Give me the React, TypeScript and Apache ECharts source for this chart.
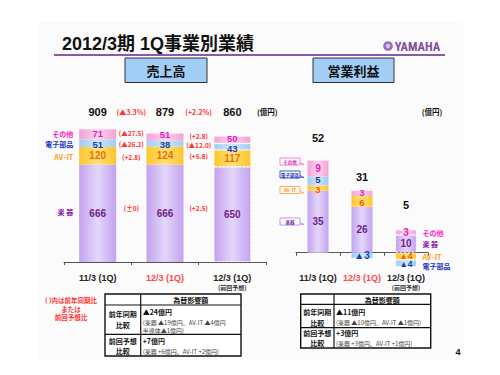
import React, { useEffect, useRef } from "react";
import * as echarts from "echarts";

// ---------- data ----------
const categories = ["11/3 (1Q)", "12/3 (1Q)", "12/3 (1Q)"];
const categoryNotes = ["", "", "(前回予想)"];
const segmentNames = ["楽 器", "AV･IT", "電子部品", "その他"];

const salesMusical = [666, 666, 650];
const salesAVIT = [120, 124, 117];
const salesElectronic = [51, 38, 43];
const salesOthers = [71, 51, 50];
const salesTotals = [909, 879, 860];
const salesTotalChanges = ["(▲3.3%)", "(+2.2%)"];
const salesMusicalChanges = ["(±0)", "(+2.5)"];
const salesAVITChanges = ["(+2.8)", "(+5.8)"];
const salesElectronicChanges = ["(▲26.2)", "(▲12.0)"];
const salesOthersChanges = ["(▲27.5)", "(+2.8)"];

const profitMusical = [35, 26, 10];
const profitAVIT = [3, 6, -4];
const profitElectronic = [5, -3, -4];
const profitOthers = [9, 3, 3];
const profitTotals = [52, 31, 5];

const unitLabel = "(億円)";
const noteLines = ["( )内は前年同期比", "または", "前回予想比"];
const tableHeader = "為替影響額";
const salesFxRows = [
  { head: ["前年同期", "比較"], main: "▲24億円", detail: ["(楽器 ▲19億円、AV-IT ▲4億円", "半導体▲1億円)"] },
  { head: ["前回予想", "比較"], main: "+7億円", detail: ["(楽器 +6億円、AV-IT +2億円)"] },
];
const profitFxRows = [
  { head: ["前年同期", "比較"], main: "▲11億円", detail: ["(楽器 ▲10億円、AV-IT ▲1億円)"] },
  { head: ["前回予想", "比較"], main: "+3億円", detail: ["(楽器 +3億円、AV-IT +1億円)"] },
];

// ---------- styles ----------
const FONT = "'Liberation Sans', 'Noto Sans CJK JP', sans-serif";
const CJK = "'Noto Sans CJK JP', 'Liberation Sans', sans-serif";
const RED = "#FF3333";

const grad = (edge: string, mid: string) => ({
  type: "linear",
  x: 0,
  y: 0,
  x2: 1,
  y2: 0,
  colorStops: [
    { offset: 0, color: edge },
    { offset: 0.5, color: mid },
    { offset: 1, color: edge },
  ],
});

const SEG = [
  { fill: grad("#C3A2EE", "#E4D6FA"), label: "#6E1E8C", legend: "#8A22A8" },
  { fill: grad("#FFC52A", "#FFE07A"), label: "#EE6E00", legend: "#FF9A10" },
  { fill: grad("#9ECDF4", "#CFE7FB"), label: "#1A3DB8", legend: "#1535C8" },
  { fill: grad("#F5A2D4", "#FBD3EC"), label: "#E41CC0", legend: "#FF22C4" },
];

// small label nudges / sizes (series index - data index)
const salesLabelNudge: Record<string, number[]> = {
  "3-0": [0, -0.5], "2-0": [0, 1.2], "3-1": [0, -2.2], "2-1": [0, 1], "2-2": [0, 2], "3-2": [0, -1.4],
};
const salesLabelSize: Record<string, number> = { "3-0": 9.5, "2-0": 9.5, "3-1": 9.5, "2-1": 9.5, "3-2": 9.5, "2-2": 9.5 };
const profitLabelNudge: Record<string, number[]> = {
  "2-0": [0, -2], "1-0": [0, 1.6], "1-2": [0, -0.5], "2-2": [0, 1], "3-1": [0, -0.6], "1-1": [0, 1.6],
};
const profitLabelSize: Record<string, number> = { "2-0": 9.5, "1-0": 9.5, "1-2": 8.5, "2-2": 8.5, "3-1": 9.5, "1-1": 9.5 };

const txt = (
  text: string,
  x: number,
  y: number,
  fill: string,
  size: number,
  align = "center",
  weight: any = "bold",
  family = CJK
) => ({
  type: "text",
  silent: true,
  style: {
    text,
    x,
    y,
    fill,
    fontSize: size,
    fontWeight: weight,
    fontFamily: family,
    align,
    verticalAlign: "middle",
    textAlign: align,
    textVerticalAlign: "middle",
  },
});

function buildTable(
  x: number,
  y: number,
  w: number,
  col: number,
  hHead: number,
  rowH: number[],
  rows: any[],
  layout: { head: number[]; main: number; detail: number[] }[]
) {
  const els: any[] = [];
  const total = hHead + rowH[0] + rowH[1];
  els.push({ type: "rect", shape: { x, y, width: w, height: total }, style: { fill: "#fff", stroke: "#111", lineWidth: 1.4 } });
  els.push({ type: "line", shape: { x1: x + col, y1: y, x2: x + col, y2: y + total }, style: { stroke: "#111", lineWidth: 1.2 } });
  els.push({ type: "line", shape: { x1: x, y1: y + hHead, x2: x + w, y2: y + hHead }, style: { stroke: "#111", lineWidth: 1.2 } });
  els.push({ type: "line", shape: { x1: x, y1: y + hHead + rowH[0], x2: x + w, y2: y + hHead + rowH[0] }, style: { stroke: "#111", lineWidth: 1.2 } });
  els.push(txt(tableHeader, x + col + (w - col) / 2, y + hHead / 2 + 0.5, "#111", 7));
  let top = y + hHead;
  rows.forEach((r, i) => {
    const L = layout[i];
    els.push(txt(r.head[0], x + col / 2, top + L.head[0], "#111", 7));
    els.push(txt(r.head[1], x + col / 2, top + L.head[1], "#111", 7));
    els.push(txt(r.main, x + col + 2, top + L.main, "#111", 7, "left"));
    r.detail.forEach((d: string, k: number) => {
      els.push(txt(d, x + col + 2, top + L.detail[k], "#444", 6, "left", "normal"));
    });
    top += rowH[i];
  });
  return els;
}

export default function App() {
  const ref = useRef<HTMLDivElement>(null);
  useEffect(() => {
    if (!ref.current) return;
    const chart = echarts.init(ref.current, undefined, { renderer: "svg" });

    const salesSeries = [salesMusical, salesAVIT, salesElectronic, salesOthers];
    const profitSeries = [profitMusical, profitAVIT, profitElectronic, profitOthers];

    const mkData = (arr: number[], k: number, nudge: Record<string, number[]>, sizes: Record<string, number>) =>
      arr.map((v, i) => {
        const item: any = { value: v };
        if (i === 2) {
          item.itemStyle = { borderColor: "rgba(255,255,255,0.75)", borderWidth: 0.8, borderType: [2, 2] };
        }
        const key = `${k}-${i}`;
        if (nudge[key] || sizes[key]) {
          item.label = {};
          if (nudge[key]) item.label.offset = nudge[key];
          if (sizes[key]) item.label.fontSize = sizes[key];
        }
        return item;
      });

    const barSeries: any[] = [];
    salesSeries.forEach((arr, k) => {
      barSeries.push({
        type: "bar",
        name: segmentNames[k],
        xAxisIndex: 0,
        yAxisIndex: 0,
        stack: "sales",
        barWidth: 37,
        data: mkData(arr, k, salesLabelNudge, salesLabelSize),
        itemStyle: { color: SEG[k].fill },
        label: {
          show: true,
          position: "inside",
          color: SEG[k].label,
          fontSize: 10,
          fontWeight: "bold",
          fontFamily: FONT,
        },
      });
    });
    profitSeries.forEach((arr, k) => {
      barSeries.push({
        type: "bar",
        name: segmentNames[k] + " ",
        xAxisIndex: 1,
        yAxisIndex: 1,
        stack: "profit",
        barWidth: 21,
        data: mkData(arr, k, profitLabelNudge, profitLabelSize),
        itemStyle: { color: SEG[k].fill },
        label: {
          show: true,
          position: "inside",
          color: k === 1 ? "#FF5A00" : SEG[k].label,
          fontSize: 10,
          fontWeight: "bold",
          fontFamily: FONT,
          formatter: (p: any) => (p.value < 0 ? "▲" + Math.abs(p.value) : String(p.value)),
        },
      });
    });

    // annotation series for sales chart
    const salesAnno = {
      type: "custom",
      xAxisIndex: 0,
      yAxisIndex: 0,
      silent: true,
      z: 10,
      data: categories.map((_, i) => [i, 0]),
      renderItem: (params: any, api: any) => {
        const i = params.dataIndex;
        const cx = api.coord([i, 0])[0];
        const topY = api.coord([i, 1000])[1] - 4;
        const children: any[] = [txt(String(salesTotals[i]), cx, topY, "#111", 11, "center", "bold", FONT)];
        const segCenters = (j: number) => {
          let base = 0;
          return salesSeries.map((arr) => {
            const c = base + arr[j] / 2;
            base += arr[j];
            return api.coord([j, c])[1];
          });
        };
        const ys = segCenters(i);
        if (i < 2) {
          const xb = (cx + api.coord([i + 1, 0])[0]) / 2;
          children.push(txt(salesTotalChanges[i], xb, topY, RED, 7));
          const changes = [salesMusicalChanges, salesAVITChanges, salesElectronicChanges, salesOthersChanges];
          const dy = [-5, 1, 1, -1.5];
          changes.forEach((c, k) => {
            children.push(txt(c[i], xb, ys[k] + dy[k], RED, 6.5));
          });
        }
        if (i === 0) {
          segmentNames.forEach((n, k) => {
            children.push(txt(n, cx - 24.5, ys[k] + (k === 1 ? 1 : k === 0 ? -1 : k === 3 ? -0.8 : 0.5), SEG[k].legend, 7, "right"));
          });
        }
        if (i === 2) {
          children.push(txt(unitLabel, cx + 35, topY, "#111", 7.5, "center", "bold", CJK));
        }
        return { type: "group", children };
      },
    };

    const profitOffsets = [23, 14, 25];
    const profitAnno = {
      type: "custom",
      xAxisIndex: 1,
      yAxisIndex: 1,
      silent: true,
      z: 10,
      data: categories.map((_, i) => [i, 0]),
      renderItem: (params: any, api: any) => {
        const i = params.dataIndex;
        const cx = api.coord([i, 0])[0];
        let pos = 0;
        profitSeries.forEach((arr) => {
          if (arr[i] > 0) pos += arr[i];
        });
        const ty = api.coord([i, pos])[1] - profitOffsets[i];
        const children: any[] = [txt(String(profitTotals[i]), cx, ty, "#111", 11, "center", "bold", FONT)];
        if (i === 2) {
          children.push(txt(unitLabel, cx + 26, api.coord([i, 80])[1], "#111", 7.5));
          let p = 0;
          let n = 0;
          const centers = profitSeries.map((arr) => {
            const v = arr[i];
            let c;
            if (v >= 0) {
              c = p + v / 2;
              p += v;
            } else {
              c = n + v / 2;
              n += v;
            }
            return api.coord([i, c])[1];
          });
          const order = [3, 0, 1, 2];
          const adj = [1, 0, 0.5, 3];
          order.forEach((k, m) => {
            children.push(txt(segmentNames[k], cx + 16.5, centers[k] + adj[m], SEG[k].legend, 7, "left"));
          });
        }
        return { type: "group", children };
      },
    };

    const labelRich = {
      b: { fontSize: 9, fontWeight: "bold", color: "#222", fontFamily: FONT, lineHeight: 10 },
      r: { fontSize: 9, fontWeight: "bold", color: "#FF4A4A", fontFamily: FONT, lineHeight: 10 },
      s: { fontSize: 6, fontWeight: "bold", color: "#333", fontFamily: CJK, lineHeight: 8 },
    };
    const labelFmt = (v: string, idx: number) => {
      const main = idx === 1 ? `{r|${v}}` : `{b|${v}}`;
      return categoryNotes[idx] ? `${main}\n{s|${categoryNotes[idx]}}` : main;
    };
    const mkX = (grid: number, margin: number) => ({
      type: "category",
      gridIndex: grid,
      data: categories,
      axisLine: { show: true, onZero: true, lineStyle: { color: "#555", width: 1.2 } },
      axisTick: { show: true, length: 3, lineStyle: { color: "#555" } },
      axisLabel: { margin, formatter: labelFmt, rich: labelRich, interval: 0 },
    });

    // callout legend boxes (right chart)
    const callouts = [
      { t: "その他", y: 158, stroke: "#FF6FD0", fill: "#E020C0" },
      { t: "電子部品", y: 171, stroke: "#2244E0", fill: "#1530B0" },
      { t: "AV･IT", y: 186.5, stroke: "#FFA43A", fill: "#FF8A00" },
      { t: "楽器", y: 218, stroke: "#B488E6", fill: "#7A2AA0" },
    ];
    const calloutEls: any[] = [];
    callouts.forEach((c) => {
      calloutEls.push({
        type: "polygon",
        shape: { points: [[299, c.y + 4], [304, c.y + 6.5], [299, c.y + 6]] },
        style: { fill: "#fff", stroke: c.stroke, lineWidth: 0.8 },
      });
      calloutEls.push({
        type: "rect",
        shape: { x: 280, y: c.y, width: 20, height: 7 },
        style: { fill: "#fff", stroke: c.stroke, lineWidth: 0.9 },
      });
      calloutEls.push(txt(c.t, 290, c.y + 3.7, c.fill, 4.5));
    });

    const graphic: any[] = [
      { type: "rect", shape: { x: 37, y: 22, width: 427, height: 338, r: 4 }, style: { fill: "#FBFBFB" }, silent: true, z: -10 },
      txt("2012/3期 1Q事業別業績", 62, 44, "#111", 18, "left", "bold", FONT),
      { type: "line", shape: { x1: 54, y1: 55, x2: 445, y2: 55 }, style: { stroke: "#8A5AA8", lineWidth: 2 } },
      { type: "circle", shape: { cx: 388, cy: 46, r: 4.8 }, style: { fill: "#9C6CB8" } },
      { type: "circle", shape: { cx: 388, cy: 46, r: 2.2 }, style: { fill: "#D8C4E6" } },
      txt("YAMAHA", 417.5, 46.5, "#7E4E9E", 12.5, "center", "bold", "'Roboto Condensed', Roboto, 'Liberation Sans', sans-serif"),
      { type: "rect", shape: { x: 125, y: 58, width: 82, height: 24.5 }, style: { fill: "#A2CEF6", stroke: "#333", lineWidth: 1 } },
      txt("売上高", 166, 70.5, "#111", 13),
      { type: "rect", shape: { x: 313, y: 58, width: 81, height: 24.5 }, style: { fill: "#A2CEF6", stroke: "#333", lineWidth: 1 } },
      txt("営業利益", 353.5, 70.5, "#111", 13),
      txt(noteLines[0], 71, 300, RED, 6.5),
      txt(noteLines[1], 71, 308.5, RED, 6.5),
      txt(noteLines[2], 71, 317, RED, 6.5),
      ...buildTable(105, 294, 136, 35.7, 11, [29.3, 21.7], salesFxRows, [
        { head: [9.3, 20], main: 6.7, detail: [17, 25] },
        { head: [6.7, 16.7], main: 6.7, detail: [16.7] },
      ]),
      ...buildTable(300.7, 294, 130, 33.3, 10.3, [23.4, 20.3], profitFxRows, [
        { head: [8, 18.4], main: 8, detail: [18.4] },
        { head: [5.3, 15.6], main: 5.3, detail: [15.6] },
      ]),
      txt("4", 458, 352, "#111", 9, "center", "bold", FONT),
      ...calloutEls,
    ];

    chart.setOption({
      animation: false,
      textStyle: { fontFamily: FONT },
      grid: [
        { left: 64, width: 202, top: 115.7, height: 146.3 },
        { left: 296, width: 132, top: 146.5, height: 123.9 },
      ],
      xAxis: [mkX(0, 11), mkX(1, 3)],
      yAxis: [
        { type: "value", gridIndex: 0, min: 0, max: 1000, show: false },
        { type: "value", gridIndex: 1, min: -10, max: 60, show: false },
      ],
      series: [...barSeries, salesAnno, profitAnno],
      graphic,
    });
    return () => chart.dispose();
  }, []);
  return <div ref={ref} style={{ position: "fixed", left: 0, top: 0, width: 500, height: 375, background: "#fff" }} />;
}
